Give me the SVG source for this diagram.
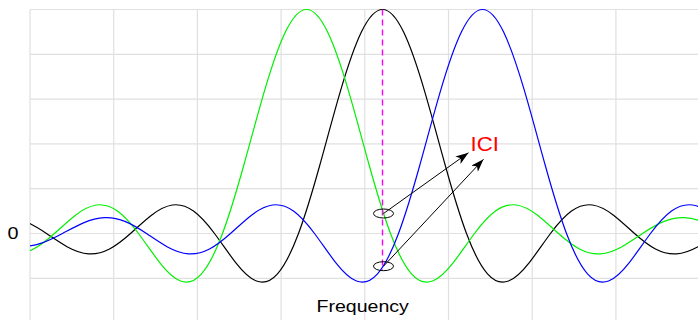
<svg xmlns="http://www.w3.org/2000/svg" xmlns:xlink="http://www.w3.org/1999/xlink" width="698" height="320" viewBox="0 0 698 320">
<style>
.grid line{stroke:#e0e0e0;stroke-width:1.2}
.curve{fill:none;stroke-width:1.2}
.lbl{font-family:"Liberation Sans",Arial,sans-serif}
.ell{fill:none;stroke:#000;stroke-width:1}
.arr{stroke:#000;stroke-width:1;marker-end:url(#ah)}
</style>
<defs>
<marker id="ah" markerUnits="userSpaceOnUse" markerWidth="13" markerHeight="9" refX="13" refY="4.5" orient="auto">
<path d="M0,0 L13,4.5 L0,9 L3.5,4.5 z" fill="#000"/>
</marker>
<clipPath id="plot"><rect x="30" y="0" width="668" height="320"/></clipPath>
<path id="sinc" d="M-462,12.96 C-455,13.16 -448,11.96 -441,9.60 C-434,7.24 -427,3.73 -420,0 C-413,-3.73 -406,-7.66 -399,-10.62 C-392,-13.59 -385,-15.56 -378,-15.85 C-371,-16.14 -364,-14.73 -357,-11.86 C-350,-8.99 -343,-4.67 -336,0 C-329,4.67 -322,9.62 -315,13.44 C-308,17.26 -301,19.89 -294,20.37 C-287,20.86 -280,19.17 -273,15.51 C-266,11.85 -259,6.22 -252,0 C-245,-6.22 -238,-12.97 -231,-18.33 C-224,-23.69 -217,-27.57 -210,-28.52 C-203,-29.47 -196,-27.45 -189,-22.41 C-182,-17.37 -175,-9.33 -168,0 C-161,9.33 -154,19.90 -147,28.81 C-140,37.73 -133,44.90 -126,47.54 C-119,50.18 -112,48.20 -105,40.33 C-98,32.46 -91,18.67 -84,0 C-77,-18.67 -70,-42.15 -63,-67.22 C-56,-92.29 -49,-118.83 -42,-142.60 C-35,-166.37 -28,-187.24 -21,-201.67 C-14,-216.10 -7,-224 0,-224 C7,-224 14,-216.10 21,-201.67 C28,-187.24 35,-166.37 42,-142.60 C49,-118.83 56,-92.29 63,-67.22 C70,-42.15 77,-18.67 84,0 C91,18.67 98,32.46 105,40.33 C112,48.20 119,50.18 126,47.54 C133,44.90 140,37.73 147,28.81 C154,19.90 161,9.33 168,0 C175,-9.33 182,-17.37 189,-22.41 C196,-27.45 203,-29.47 210,-28.52 C217,-27.57 224,-23.69 231,-18.33 C238,-12.97 245,-6.22 252,0 C259,6.22 266,11.85 273,15.51 C280,19.17 287,20.86 294,20.37 C301,19.89 308,17.26 315,13.44 C322,9.62 329,4.67 336,0 C343,-4.67 350,-8.99 357,-11.86 C364,-14.73 371,-16.14 378,-15.85 C385,-15.56 392,-13.59 399,-10.62 C406,-7.66 413,-3.73 420,0 C427,3.73 434,7.24 441,9.60 C448,11.96 455,13.16 462,12.96"/>
</defs>
<rect width="698" height="320" fill="#fff"/>
<g id="grid" class="grid">
<line x1="30" y1="9.5" x2="698" y2="9.5"/>
<line x1="30" y1="54.3" x2="698" y2="54.3"/>
<line x1="30" y1="99.1" x2="698" y2="99.1"/>
<line x1="30" y1="143.9" x2="698" y2="143.9"/>
<line x1="30" y1="188.7" x2="698" y2="188.7"/>
<line x1="30" y1="233.5" x2="698" y2="233.5"/>
<line x1="30" y1="278.3" x2="698" y2="278.3"/>
<line x1="30" y1="9.5" x2="30" y2="320"/>
<line x1="113.7" y1="9.5" x2="113.7" y2="320"/>
<line x1="197.4" y1="9.5" x2="197.4" y2="320"/>
<line x1="281.1" y1="9.5" x2="281.1" y2="320"/>
<line x1="364.8" y1="9.5" x2="364.8" y2="320"/>
<line x1="448.5" y1="9.5" x2="448.5" y2="320"/>
<line x1="532.2" y1="9.5" x2="532.2" y2="320"/>
<line x1="615.9" y1="9.5" x2="615.9" y2="320"/>
</g>
<g id="curves" clip-path="url(#plot)">
<use xlink:href="#sinc" href="#sinc" class="curve" stroke="#000" transform="translate(382.5,233.5)"/>
<use xlink:href="#sinc" href="#sinc" class="curve" stroke="#00f000" transform="translate(306.5,233.5)"/>
<use xlink:href="#sinc" href="#sinc" class="curve" stroke="#0000ff" transform="translate(482.5,233.5)"/>
</g>
<g id="marker-line">
<line x1="382.5" y1="9.5" x2="382.5" y2="270" stroke="#ff00ff" stroke-width="1.4" stroke-dasharray="6,4"/>
</g>
<g id="ellipse-top"><ellipse class="ell" cx="383.5" cy="213.5" rx="10" ry="4.5"/></g>
<g id="ellipse-bottom"><ellipse class="ell" cx="383.5" cy="266.2" rx="10" ry="4.5"/></g>
<g id="connectors">
<line class="arr" x1="383.5" y1="213.5" x2="468.5" y2="152.7"/>
<line class="arr" x1="383.5" y1="266.2" x2="483.5" y2="159.3"/>
</g>
<g id="label-ici"><text class="lbl" transform="translate(470.5,150.7) scale(1.14,1)" font-size="19.5" fill="#ff0000">ICI</text></g>
<g id="label-zero"><text class="lbl" transform="translate(7.5,239.3) scale(1.2,1)" font-size="16.5" fill="#000">0</text></g>
<g id="label-freq"><text class="lbl" transform="translate(316.5,311.7) scale(1.2,1)" font-size="16.3" fill="#000">Frequency</text></g>
</svg>
